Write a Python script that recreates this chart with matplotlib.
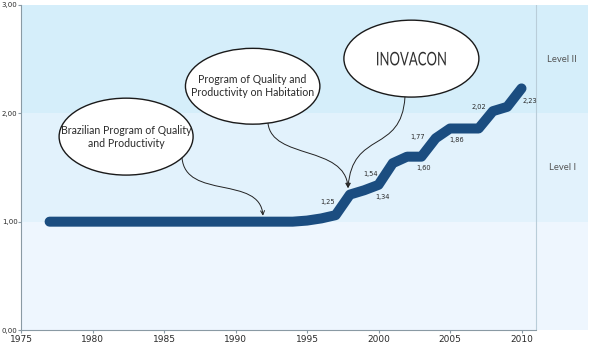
import matplotlib
matplotlib.use("Agg")
import matplotlib.pyplot as plt
from matplotlib.patches import Ellipse, FancyArrowPatch, PathPatch
from matplotlib.path import Path
from matplotlib.textpath import TextPath
from matplotlib.font_manager import FontProperties
from matplotlib.transforms import Affine2D

# data
years = list(range(1977, 2011))
values = [1.00] * 18 + [1.01, 1.03, 1.06, 1.25, 1.29, 1.34, 1.54, 1.60, 1.60,
                        1.77, 1.86, 1.86, 1.86, 2.02, 2.06, 2.23]
label_years = [1998, 2000, 2001, 2002, 2004, 2005, 2008, 2010]
label_values = [1.25, 1.34, 1.54, 1.60, 1.77, 1.86, 2.02, 2.23]
label_offsets = [(-16, -5), (3, -9), (-16, -8), (12, -8), (-13, 1), (5, -8), (-10, 3), (6, -9)]
x_ticks = [1975, 1980, 1985, 1990, 1995, 2000, 2005, 2010]
y_ticks = [0, 1, 2, 3]
y_tick_labels = ["0,00", "1,00", "2,00", "3,00"]
level_names = ["Level I", "Level II"]

LINE = "#1b4d80"
TXT = "#2a2a2a"

fig = plt.figure(figsize=(5.91, 3.54), dpi=100)
ax = fig.add_axes([21 / 591, 24 / 354, 567 / 591, 325 / 354])
ax.set_xlim(1975, 2014.65)
ax.set_ylim(0, 3)

# background bands
ax.axhspan(0, 1, color="#eef6fe", zorder=0, lw=0)
ax.axhspan(1, 2, color="#e2f2fc", zorder=0, lw=0)
ax.axhspan(2, 3, color="#d5eefa", zorder=0, lw=0)
ax.axvline(2011, color="#b9cdd9", lw=0.8, zorder=1)

ax.plot(years, values, color=LINE, lw=7.2, solid_capstyle="round",
        solid_joinstyle="round", zorder=3)

for yr, v, off in zip(label_years, label_values, label_offsets):
    ax.annotate(f"{v:.2f}".replace(".", ","), (yr, v), xytext=off,
                textcoords="offset points", fontsize=4.8, color=TXT,
                ha="center", va="center", family="DejaVu Sans", zorder=4)

ax.text(2012.85, 1.5, level_names[0], fontsize=6.8, color="#555555",
        ha="center", va="center", family="Lato")
ax.text(2012.85, 2.5, level_names[1], fontsize=6.8, color="#555555",
        ha="center", va="center", family="Lato")

# speech bubbles
bubbles = [
    ((1982.35, 1.785), 9.37, 0.71, "Brazilian Program of Quality\nand Productivity"),
    ((1991.2, 2.25), 9.4, 0.70, "Program of Quality and\nProductivity on Habitation"),
    ((2002.3, 2.505), 9.44, 0.71, ""),
]
for (cx, cy), w, h, txt in bubbles:
    ax.add_patch(Ellipse((cx, cy), w, h, facecolor="white", edgecolor="#1a1a1a",
                         lw=1.0, zorder=5))
    if txt:
        ax.text(cx, cy, txt, ha="center", va="center", fontsize=7.6, color=TXT,
                family="Lato", linespacing=1.2, zorder=6)

# condensed INOVACON title (text squeezed sideways like the original)
tp = TextPath((0, 0), "INOVACON", size=13.5, prop=FontProperties(family="Lato"))
ext = tp.get_extents()
sx = 49.5 / ext.width
center = ax.transData.transform((2002.3, 2.505))
tr = (Affine2D().translate(-ext.x0 - ext.width / 2, -ext.y0 - ext.height / 2)
      .scale(sx * fig.dpi / 72, fig.dpi / 72).translate(*center))
ax.add_patch(PathPatch(tp, transform=tr, facecolor="#303030", lw=0, zorder=6))

curves = [
    [(1986.26, 1.59), (1986.5, 1.20), (1991.7, 1.43), (1991.92, 1.055)],
    [(1992.27, 1.91), (1992.55, 1.57), (1997.66, 1.71), (1997.87, 1.31)],
    [(2001.85, 2.15), (2001.6, 1.62), (1998.15, 1.85), (1997.87, 1.31)],
]
for pts in curves:
    path = Path(pts, [Path.MOVETO, Path.CURVE4, Path.CURVE4, Path.CURVE4])
    ax.add_patch(FancyArrowPatch(path=path, arrowstyle="->", mutation_scale=7,
                                 color="#222222", lw=0.7, zorder=4))

for side in ("top", "right"):
    ax.spines[side].set_visible(False)
ax.spines["left"].set_color("#8a9aa4")
ax.spines["bottom"].set_color("#8a9aa4")
ax.spines["bottom"].set_bounds(1975, 2011)

ax.set_xticks(x_ticks)
ax.set_yticks(y_ticks)
ax.set_yticklabels(y_tick_labels)
ax.tick_params(axis="x", length=2, color="#8a9aa4", labelsize=6.5,
               labelcolor=TXT, pad=1.5)
ax.tick_params(axis="y", length=2, color="#8a9aa4", labelsize=5,
               labelcolor=TXT, pad=0.5)

fig.savefig("out.png", dpi=100)
